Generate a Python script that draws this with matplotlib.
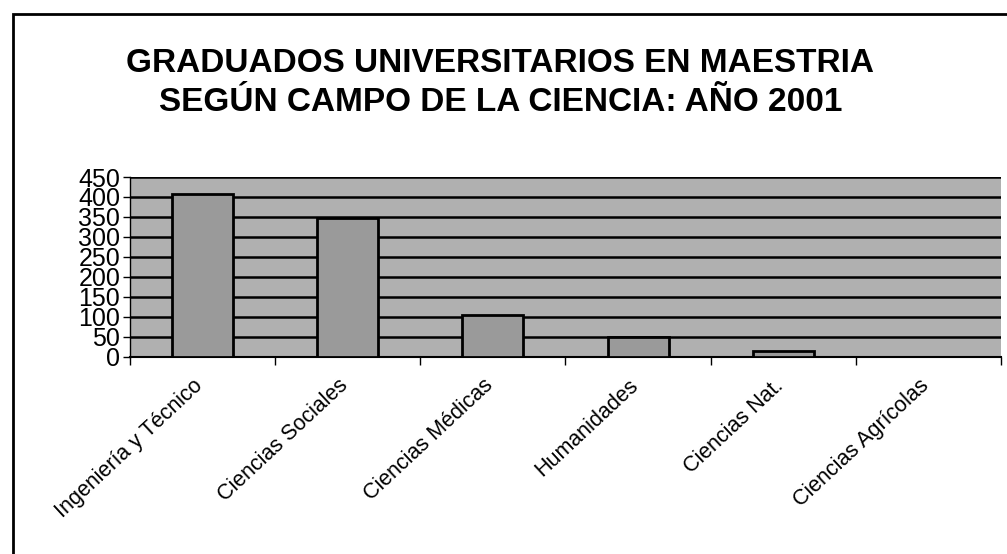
import matplotlib
matplotlib.use("Agg")
import matplotlib.pyplot as plt
from matplotlib.patches import Rectangle
import matplotlib.transforms as mtransforms
import numpy as np

plt.rcParams['font.family'] = ['Liberation Sans', 'DejaVu Sans']

categories = ["Ingeniería y Técnico", "Ciencias Sociales", "Ciencias Médicas",
              "Humanidades", "Ciencias Nat.", "Ciencias Agrícolas"]
values = [407, 347, 103, 48, 13, 0]
yticks = [0, 50, 100, 150, 200, 250, 300, 350, 400, 450]
title = "GRADUADOS UNIVERSITARIOS EN MAESTRIA\nSEGÚN CAMPO DE LA CIENCIA: AÑO 2001"

fig = plt.figure(figsize=(10.07, 5.54), dpi=100)
fig.patch.set_facecolor('white')

# outer frame (left and top edges visible)
fig.add_artist(Rectangle((13/1007, -0.1), 1.2, 1 - 14/554 + 0.1,
                         transform=fig.transFigure, fill=False,
                         edgecolor='black', linewidth=2))

ax = fig.add_axes([130/1007, 1 - 356.5/554, (1001-130)/1007, (356.5-177)/554])
ax.set_facecolor('#b0b0b0')

x = np.arange(len(categories))
ax.bar(x, values, width=0.42, color='#9a9a9a', edgecolor='black',
       linewidth=2, zorder=3)

ax.set_xlim(-0.5, len(categories) - 0.5)
ax.set_ylim(0, 450)
ax.set_yticks(yticks)
ax.set_yticklabels([str(v) for v in yticks], fontsize=18)
ax.yaxis.grid(True, color='black', linewidth=1.8, zorder=1)
ax.set_axisbelow(True)

# ticks at category boundaries, labels at centers
ax.set_xticks(np.arange(-0.5, len(categories)), minor=False)
ax.set_xticklabels([])
ax.set_xticks(x, minor=True)
ax.set_xticklabels(categories, minor=True, rotation=43, ha='right',
                   rotation_mode='anchor', fontsize=15.5)
ax.tick_params(axis='x', which='major', length=6, width=1, direction='out')
ax.tick_params(axis='x', which='minor', length=0, pad=14)
ax.tick_params(axis='y', length=5, width=1, pad=2)
offset = mtransforms.ScaledTranslation(-10/100, 1/100, fig.dpi_scale_trans)
for lbl in ax.get_xticklabels(minor=True):
    lbl.set_transform(lbl.get_transform() + offset)

for s in ['top', 'right']:
    ax.spines[s].set_visible(False)
ax.spines['left'].set_linewidth(1)
ax.spines['bottom'].set_linewidth(1.5)

fig.text(0.497, 1 - 83/554, title, ha='center', va='center', fontsize=24,
         fontweight='bold', linespacing=1.35)

fig.savefig('out.png', dpi=100)
